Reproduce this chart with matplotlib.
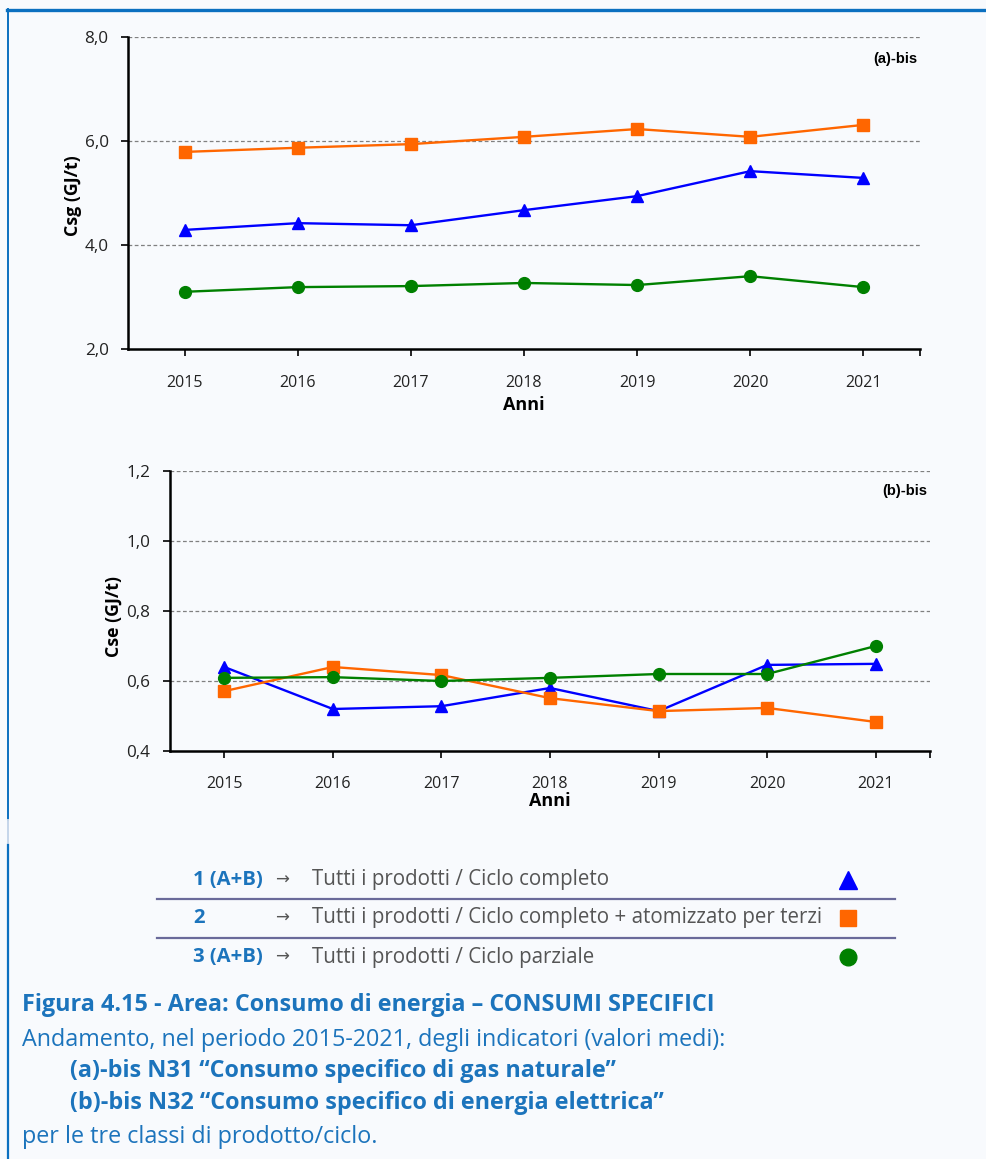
import matplotlib
matplotlib.use("Agg")
import matplotlib.pyplot as plt
from matplotlib.lines import Line2D
from matplotlib.ticker import FixedLocator, FuncFormatter

# ---- data ----
years = [2015, 2016, 2017, 2018, 2019, 2020, 2021]

# (a)-bis  N31 - specific natural gas consumption (GJ/t)
csg_ciclo_completo = [4.29, 4.42, 4.38, 4.67, 4.94, 5.42, 5.29]
csg_completo_terzi = [5.79, 5.87, 5.94, 6.08, 6.23, 6.08, 6.31]
csg_ciclo_parziale = [3.10, 3.19, 3.21, 3.27, 3.23, 3.40, 3.19]

# (b)-bis  N32 - specific electricity consumption (GJ/t)
cse_ciclo_completo = [0.64, 0.52, 0.528, 0.58, 0.514, 0.646, 0.649]
cse_completo_terzi = [0.571, 0.64, 0.617, 0.551, 0.514, 0.523, 0.483]
cse_ciclo_parziale = [0.609, 0.611, 0.600, 0.609, 0.620, 0.620, 0.700]

legend_codes = ["1 (A+B)", "2", "3 (A+B)"]
legend_texts = ["Tutti i prodotti / Ciclo completo",
                "Tutti i prodotti / Ciclo completo + atomizzato per terzi",
                "Tutti i prodotti / Ciclo parziale"]

# ---- styles ----
W, H = 986, 1159
BG = "#F8FAFD"
BLUE_FRAME = "#0B70C0"
CAPTION = "#1C74BC"
C_BLUE = "#0000FF"
C_ORANGE = "#FF6600"
C_GREEN = "#008000"
series_style = [
    dict(color=C_BLUE, marker="^", ms=8.5),
    dict(color=C_ORANGE, marker="s", ms=8),
    dict(color=C_GREEN, marker="o", ms=8.5),
]

plt.rcParams["font.family"] = ["Open Sans", "DejaVu Sans"]

fig = plt.figure(figsize=(W / 100, H / 100), dpi=100, facecolor=BG)


def fx(px):
    return px / W


def fy(py):
    return 1 - py / H


def comma(v, _):
    return f"{v:.1f}".replace(".", ",")


def make_panel(rect, ylim, yticks, label, panel_tag, series, xpad, xlabel_pad):
    ax = fig.add_axes(rect)
    ax.set_facecolor("none")
    xs = list(range(len(years)))
    for vals, st in zip(series, series_style):
        ax.plot(xs, vals, color=st["color"], lw=1.7, marker=st["marker"],
                ms=st["ms"], mec=st["color"], mfc=st["color"], zorder=3)
    ax.set_xlim(-0.5, len(years) - 0.5)
    ax.set_ylim(*ylim)
    ax.yaxis.set_major_locator(FixedLocator(yticks))
    ax.yaxis.set_major_formatter(FuncFormatter(comma))
    for t in yticks[1:]:
        ax.axhline(t, color="#808080", lw=0.9, ls=(0, (3, 2)), zorder=1)
    ax.set_xticks(xs)
    ax.set_xticklabels([str(y) for y in years])
    ax.xaxis.set_minor_locator(FixedLocator([len(years) - 0.5]))
    ax.tick_params(axis="x", which="both", direction="out", length=5,
                   width=1.2, color="black", pad=xpad, labelsize=11.5,
                   labelcolor="#222222")
    ax.tick_params(axis="y", direction="out", length=5, width=1.2,
                   color="black", pad=9, labelsize=12.3, labelcolor="#222222")
    for s in ("top", "right"):
        ax.spines[s].set_visible(False)
    for s in ("left", "bottom"):
        ax.spines[s].set_linewidth(1.8)
    ax.set_xlabel("Anni", fontweight="bold", fontsize=13, labelpad=xlabel_pad)
    ax.set_ylabel(label, fontweight="bold", fontsize=12.8)
    ax.text(0.997, 0.93, panel_tag, transform=ax.transAxes, ha="right",
            va="center", fontsize=10.5, fontweight="bold",
            family="Liberation Sans")
    return ax


ax1 = make_panel([fx(128), fy(349), fx(920) - fx(128), fy(37) - fy(349)],
                 (2.0, 8.0), [2.0, 4.0, 6.0, 8.0], "Csg (GJ/t)", "(a)-bis",
                 [csg_ciclo_completo, csg_completo_terzi, csg_ciclo_parziale],
                 xpad=14, xlabel_pad=3)
ax1.yaxis.set_label_coords(-0.058, 0.49)

ax2 = make_panel([fx(170), fy(751), fx(930) - fx(170), fy(471) - fy(751)],
                 (0.4, 1.2), [0.4, 0.6, 0.8, 1.0, 1.2], "Cse (GJ/t)", "(b)-bis",
                 [cse_ciclo_completo, cse_completo_terzi, cse_ciclo_parziale],
                 xpad=13, xlabel_pad=0)
ax2.yaxis.set_label_coords(-0.062, 0.48)

# ---- frame ----
fig.add_artist(Line2D([fx(7), fx(W)], [fy(10), fy(10)], color=BLUE_FRAME, lw=2.4))
fig.add_artist(Line2D([fx(7.5), fx(7.5)], [fy(9), fy(820)], color=BLUE_FRAME, lw=1.4))
fig.add_artist(Line2D([fx(7.5), fx(7.5)], [fy(820), fy(845)], color="#C5D6EA", lw=1.4))
fig.add_artist(Line2D([fx(7.5), fx(7.5)], [fy(845), fy(H)], color=BLUE_FRAME, lw=1.6))

# ---- legend table ----
row_y = [880, 918, 957]
for yy in (899, 938):
    fig.add_artist(Line2D([fx(157), fx(895)], [fy(yy), fy(yy)], color="#6A6A9A", lw=1.6))
for i, (code, txt, st) in enumerate(zip(legend_codes, legend_texts, series_style)):
    y = fy(row_y[i])
    fig.text(fx(193), y, code, color=CAPTION, fontsize=14.6, fontweight="bold",
             ha="left", va="center")
    fig.text(fx(282), y, "→", color="#555555", fontsize=12, ha="center",
             va="center", family=["DejaVu Sans"])
    fig.text(fx(312), y, txt, color="#555555", fontsize=14.8, ha="left", va="center")
    fig.add_artist(Line2D([fx(848)], [y], marker=st["marker"], color=st["color"],
                          ms=[13, 11, 12][i], mec=st["color"], ls="none"))

# ---- caption ----
CAP_FS = 16.85
fig.text(fx(22), fy(1005), "Figura 4.15 - Area: Consumo di energia – CONSUMI SPECIFICI",
         color=CAPTION, fontsize=CAP_FS, fontweight="bold", va="center")
fig.text(fx(22), fy(1040), "Andamento, nel periodo 2015-2021, degli indicatori (valori medi):",
         color=CAPTION, fontsize=CAP_FS, va="center")
fig.text(fx(70), fy(1071), "(a)-bis N31 “Consumo specifico di gas naturale”",
         color=CAPTION, fontsize=CAP_FS, fontweight="bold", va="center")
fig.text(fx(70), fy(1103), "(b)-bis N32 “Consumo specifico di energia elettrica”",
         color=CAPTION, fontsize=CAP_FS, fontweight="bold", va="center")
fig.text(fx(22), fy(1137), "per le tre classi di prodotto/ciclo.",
         color=CAPTION, fontsize=CAP_FS, va="center")

fig.savefig("out.png", dpi=100, facecolor=BG)
